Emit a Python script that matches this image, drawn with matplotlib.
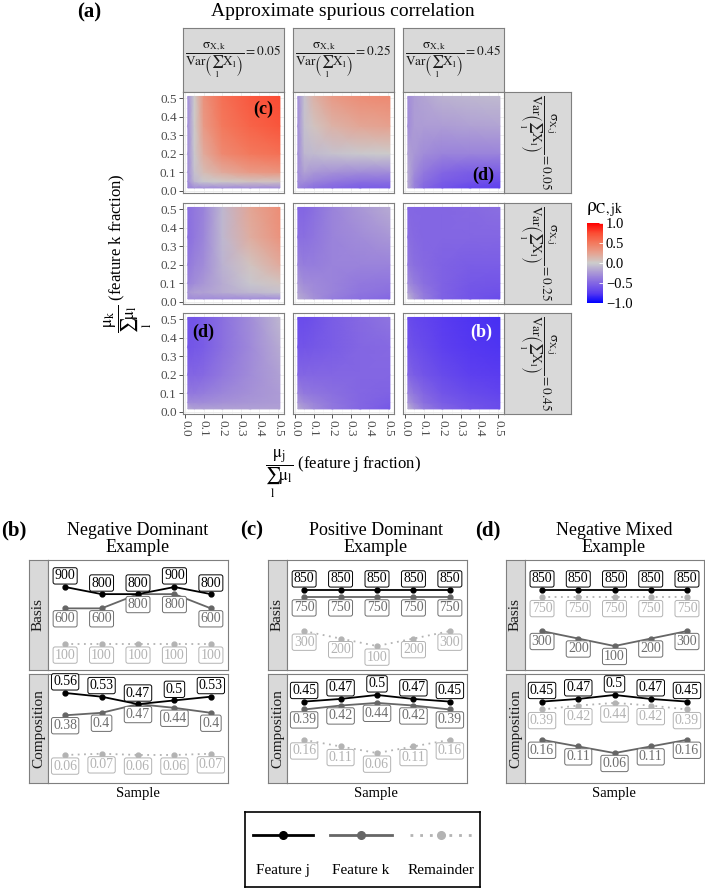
import numpy as np
import matplotlib
matplotlib.use('Agg')
import matplotlib.pyplot as plt
from matplotlib import font_manager
from matplotlib.colors import LinearSegmentedColormap, Normalize
from matplotlib.cm import ScalarMappable

try:
    font_manager.findfont(font_manager.FontProperties(family='Liberation Serif'),
                          fallback_to_default=False)
    plt.rcParams['font.family'] = ['Liberation Serif', 'STIXGeneral']
except ValueError:
    plt.rcParams['font.family'] = ['STIXGeneral']
plt.rcParams['mathtext.fontset'] = 'stix'

W, H = 705, 889

# ---------------- data: panel (a) ----------------
frac = [0.015, 0.05, 0.1, 0.2, 0.35, 0.51]        # mu_j (cols) and mu_k (rows) fractions
sigma_k = ['0.05', '0.25', '0.45']
sigma_j = ['0.05', '0.25', '0.45']
# rows listed top (mu_k = 0.51) to bottom (mu_k = 0.015)
rho_j05_k05 = [[-0.30, 0.00, 0.35, 0.55, 0.68, 0.75],
               [-0.30, 0.00, 0.30, 0.50, 0.62, 0.70],
               [-0.30, -0.02, 0.20, 0.40, 0.50, 0.55],
               [-0.30, -0.05, 0.10, 0.20, 0.30, 0.33],
               [-0.30, -0.10, -0.02, 0.02, 0.05, 0.05],
               [-0.35, -0.30, -0.30, -0.30, -0.30, -0.30]]
rho_j05_k25 = [[-0.30, -0.05, 0.15, 0.30, 0.38, 0.40],
               [-0.30, -0.05, 0.05, 0.15, 0.22, 0.25],
               [-0.30, -0.10, -0.08, -0.05, -0.02, 0.00],
               [-0.30, -0.20, -0.25, -0.28, -0.30, -0.30],
               [-0.30, -0.30, -0.35, -0.40, -0.45, -0.45],
               [-0.35, -0.40, -0.45, -0.50, -0.55, -0.55]]
rho_j05_k45 = [[-0.30, -0.22, -0.18, -0.12, -0.10, -0.08],
               [-0.30, -0.22, -0.22, -0.22, -0.20, -0.18],
               [-0.20, -0.25, -0.30, -0.35, -0.35, -0.35],
               [-0.15, -0.30, -0.40, -0.50, -0.55, -0.55],
               [-0.15, -0.35, -0.45, -0.55, -0.60, -0.65],
               [-0.15, -0.35, -0.50, -0.60, -0.68, -0.72]]
rho_j25_k05 = [[-0.45, -0.40, -0.35, -0.10, 0.22, 0.38],
               [-0.45, -0.40, -0.33, -0.10, 0.18, 0.34],
               [-0.40, -0.35, -0.30, -0.12, 0.05, 0.20],
               [-0.35, -0.30, -0.25, -0.15, -0.03, 0.05],
               [-0.25, -0.20, -0.20, -0.15, -0.10, -0.05],
               [-0.30, -0.30, -0.30, -0.30, -0.30, -0.30]]
rho_j25_k25 = [[-0.50, -0.50, -0.45, -0.35, -0.25, -0.15],
               [-0.45, -0.45, -0.42, -0.35, -0.30, -0.25],
               [-0.35, -0.38, -0.38, -0.35, -0.35, -0.35],
               [-0.25, -0.30, -0.32, -0.35, -0.40, -0.42],
               [-0.20, -0.25, -0.30, -0.35, -0.42, -0.45],
               [-0.15, -0.20, -0.28, -0.38, -0.45, -0.50]]
rho_j25_k45 = [[-0.50, -0.50, -0.50, -0.50, -0.48, -0.45],
               [-0.45, -0.48, -0.50, -0.50, -0.50, -0.50],
               [-0.40, -0.45, -0.48, -0.52, -0.55, -0.55],
               [-0.30, -0.38, -0.45, -0.52, -0.58, -0.60],
               [-0.20, -0.30, -0.40, -0.52, -0.60, -0.62],
               [-0.10, -0.25, -0.38, -0.52, -0.60, -0.65]]
rho_j45_k05 = [[-0.60, -0.60, -0.55, -0.45, -0.30, -0.10],
               [-0.60, -0.58, -0.55, -0.45, -0.32, -0.15],
               [-0.50, -0.50, -0.48, -0.40, -0.30, -0.20],
               [-0.40, -0.40, -0.38, -0.33, -0.28, -0.22],
               [-0.30, -0.30, -0.30, -0.28, -0.25, -0.22],
               [-0.15, -0.20, -0.20, -0.20, -0.20, -0.20]]
rho_j45_k25 = [[-0.65, -0.65, -0.62, -0.55, -0.48, -0.42],
               [-0.60, -0.60, -0.58, -0.55, -0.50, -0.48],
               [-0.50, -0.50, -0.50, -0.50, -0.50, -0.50],
               [-0.35, -0.40, -0.42, -0.45, -0.50, -0.52],
               [-0.25, -0.30, -0.35, -0.42, -0.50, -0.55],
               [-0.15, -0.22, -0.30, -0.40, -0.50, -0.58]]
rho_j45_k45 = [[-0.65, -0.68, -0.70, -0.75, -0.78, -0.80],
               [-0.60, -0.63, -0.66, -0.72, -0.76, -0.78],
               [-0.50, -0.55, -0.60, -0.66, -0.72, -0.75],
               [-0.35, -0.42, -0.50, -0.60, -0.66, -0.70],
               [-0.25, -0.35, -0.45, -0.55, -0.62, -0.66],
               [-0.12, -0.25, -0.38, -0.50, -0.60, -0.65]]
rho_grid = [[rho_j05_k05, rho_j05_k25, rho_j05_k45],
            [rho_j25_k05, rho_j25_k25, rho_j25_k45],
            [rho_j45_k05, rho_j45_k25, rho_j45_k45]]

# ---------------- data: panels (b)-(d) ----------------
samples = [1, 2, 3, 4, 5]
b_basis_j = [900, 800, 800, 900, 800]
b_basis_k = [600, 600, 800, 800, 600]
b_basis_r = [100, 100, 100, 100, 100]
b_comp_j = [0.56, 0.53, 0.47, 0.5, 0.53]
b_comp_k = [0.38, 0.4, 0.47, 0.44, 0.4]
b_comp_r = [0.06, 0.07, 0.06, 0.06, 0.07]

c_basis_j = [850, 850, 850, 850, 850]
c_basis_k = [750, 750, 750, 750, 750]
c_basis_r = [300, 200, 100, 200, 300]
c_comp_j = [0.45, 0.47, 0.5, 0.47, 0.45]
c_comp_k = [0.39, 0.42, 0.44, 0.42, 0.39]
c_comp_r = [0.16, 0.11, 0.06, 0.11, 0.16]

d_basis_j = [850, 850, 850, 850, 850]
d_basis_k = [300, 200, 100, 200, 300]
d_basis_r = [750, 750, 750, 750, 750]
d_comp_j = [0.45, 0.47, 0.5, 0.47, 0.45]
d_comp_k = [0.16, 0.11, 0.06, 0.11, 0.16]
d_comp_r = [0.39, 0.42, 0.44, 0.42, 0.39]

fig = plt.figure(figsize=(W / 100, H / 100), dpi=100)


def px_ax(x0, y0, x1, y1):
    return fig.add_axes([x0 / W, 1 - y1 / H, (x1 - x0) / W, (y1 - y0) / H])


def px_text(x, y, s, **kw):
    return fig.text(x / W, 1 - y / H, s, **kw)


def strip(x0, y0, x1, y1, s, rot=0, size=10):
    a = px_ax(x0, y0, x1, y1)
    a.set_facecolor('#D9D9D9')
    a.set_xticks([]); a.set_yticks([])
    for sp in a.spines.values():
        sp.set_color('#7F7F7F'); sp.set_linewidth(0.8)
    a.text(0.5, 0.5, s, rotation=rot, ha='center', va='center', fontsize=size,
           color='#1A1A1A', transform=a.transAxes)
    return a


cmap = LinearSegmentedColormap.from_list('rho', [
    (0.0, '#0000FF'), (0.125, '#5A3CF0'), (0.25, '#8366E3'), (0.375, '#A996D6'),
    (0.5, '#CCCCCC'), (0.625, '#E6A290'), (0.75, '#F37A5E'), (0.875, '#FB4D34'),
    (1.0, '#FF0000')])
norm = Normalize(-1, 1)

strip_fmt = (r'$\dfrac{\mathrm{\sigma}_{\mathrm{X,%s}}}'
             r'{\mathrm{Var}\left(\sum_{\mathrm{l}}\mathrm{X}_{\mathrm{l}}\right)} = %s$')

# ---------------- panel (a) ----------------
col_x = [(183, 284), (293, 394), (403, 504)]
row_y = [(92, 193), (203, 304), (313, 414)]
ticks = [0.0, 0.1, 0.2, 0.3, 0.4, 0.5]

px_text(89, 12, '(a)', fontsize=15, fontweight='bold', ha='center', va='center')
px_text(343, 11, 'Approximate spurious correlation', fontsize=14, ha='center', va='center')

for c in range(3):
    strip(col_x[c][0], 28, col_x[c][1], 92, strip_fmt % ('k', sigma_k[c]), size=9.5)
for r in range(3):
    strip(504, row_y[r][0], 571, row_y[r][1], strip_fmt % ('j', sigma_j[r]), rot=-90, size=9.5)

heat_axes = {}
for r in range(3):
    for c in range(3):
        ax = px_ax(col_x[c][0], row_y[r][0], col_x[c][1], row_y[r][1])
        z = np.flipud(np.array(rho_grid[r][c]))
        ax.pcolormesh(frac, frac, z, shading='gouraud', cmap=cmap, norm=norm, zorder=1)
        ax.set_xlim(-0.011, 0.532)
        ax.set_ylim(-0.0125, 0.534)
        ax.set_xticks(ticks); ax.set_yticks(ticks)
        ax.set_xticks([0.05, 0.15, 0.25, 0.35, 0.45], minor=True)
        ax.set_yticks([0.05, 0.15, 0.25, 0.35, 0.45], minor=True)
        ax.grid(which='major', color='#EBEBEB', lw=0.6)
        ax.grid(which='minor', color='#F3F3F3', lw=0.4)
        ax.set_axisbelow(True)
        for sp in ax.spines.values():
            sp.set_color('#7F7F7F'); sp.set_linewidth(0.8)
        ax.tick_params(which='major', length=3, width=0.6, color='#333333',
                       labelsize=9.5, labelcolor='#4D4D4D', pad=1.5)
        ax.tick_params(which='minor', length=0)
        ax.set_yticklabels(['%.1f' % t for t in ticks])
        ax.set_xticklabels(['%.1f' % t for t in ticks], rotation=-90)
        if c > 0:
            ax.tick_params(axis='y', left=False, labelleft=False)
        if r < 2:
            ax.tick_params(axis='x', bottom=False, labelbottom=False)
        heat_axes[(r, c)] = ax

heat_axes[(0, 0)].text(0.42, 0.44, '(c)', fontsize=13, fontweight='bold', ha='center', va='center')
heat_axes[(0, 2)].text(0.42, 0.085, '(d)', fontsize=13, fontweight='bold', ha='center', va='center')
heat_axes[(2, 0)].text(0.097, 0.43, '(d)', fontsize=13, fontweight='bold', ha='center', va='center')
heat_axes[(2, 2)].text(0.41, 0.43, '(b)', fontsize=13, fontweight='bold', ha='center', va='center',
                       color='white')

px_text(343, 474, r'$\dfrac{\mathrm{\mu}_{\mathrm{j}}}{\sum_{\mathrm{l}}\mathrm{\mu}_{\mathrm{l}}}$'
        ' (feature j fraction)', fontsize=12, ha='center', va='center')
px_text(128, 253, r'$\dfrac{\mathrm{\mu}_{\mathrm{k}}}{\sum_{\mathrm{l}}\mathrm{\mu}_{\mathrm{l}}}$'
        ' (feature k fraction)', fontsize=12, ha='center', va='center', rotation=90)

cax = px_ax(587, 223, 603, 303)
cb = fig.colorbar(ScalarMappable(norm=norm, cmap=cmap), cax=cax, ticks=[-1, -0.5, 0, 0.5, 1])
cb.outline.set_visible(False)
cb.ax.set_yticklabels(['\u22121.0', '\u22120.5', '0.0', '0.5', '1.0'])
cb.ax.tick_params(direction='in', color='white', length=3, width=0.6, labelsize=10.5, pad=2)
px_text(586, 210, r'$\mathrm{\rho}_{\mathrm{C,jk}}$', fontsize=14, ha='left', va='center')

# ---------------- panels (b)-(d) ----------------
style_j = dict(color='black', lw=1.3, ls='-', marker='o', ms=3.5, zorder=3)
style_k = dict(color='#666666', lw=1.3, ls='-', marker='o', ms=3.5, zorder=2)
style_r = dict(color='#B3B3B3', lw=1.3, ls=(0, (1, 2.5)), marker='o', ms=3.5, zorder=1)


def labels(ax, ys, fmt, color, dy, z):
    for x, y in zip(samples, ys):
        ax.annotate(fmt(y), (x, y), xytext=(0, dy), textcoords='offset points',
                    ha='center', va='center', fontsize=10, color=color, zorder=z,
                    bbox=dict(boxstyle='round,pad=0.12,rounding_size=0.15', fc='white',
                              ec=color, lw=0.7))


def line_panel(x0, x1, title_x, letter, letter_x, title, rows):
    px_text(letter_x, 530, letter, fontsize=15, fontweight='bold', ha='center', va='center')
    px_text(title_x, 539, title, fontsize=13, ha='center', va='center', linespacing=1.05)
    px_text(title_x, 793, 'Sample', fontsize=10.5, ha='center', va='center')
    for (y0, y1), (name, sj, sk, sr, fmt, ylim) in zip([(560, 670), (674, 783)], rows):
        strip(x0, y0, x0 + 19, y1, name, rot=90, size=11)
        ax = px_ax(x0 + 19, y0, x1, y1)
        ax.plot(samples, sr, **style_r)
        ax.plot(samples, sk, **style_k)
        ax.plot(samples, sj, **style_j)
        labels(ax, sr, fmt, '#B3B3B3', -8, 4)
        labels(ax, sk, fmt, '#6E6E6E', -7.5, 5)
        labels(ax, sj, fmt, 'black', 8, 6)
        ax.set_xlim(0.53, 5.47)
        ax.set_ylim(*ylim)
        ax.set_xticks([]); ax.set_yticks([])
        for sp in ax.spines.values():
            sp.set_color('#7F7F7F'); sp.set_linewidth(0.8)


fmt_int = lambda v: '%d' % v
fmt_dec = lambda v: '%g' % v

line_panel(29, 228, 138, '(b)', 14, 'Negative Dominant\nExample',
           [('Basis', b_basis_j, b_basis_k, b_basis_r, fmt_int, (-265, 1279)),
            ('Composition', b_comp_j, b_comp_k, b_comp_r, fmt_dec, (-0.166, 0.713))])
line_panel(268, 467, 376, '(c)', 252, 'Positive Dominant\nExample',
           [('Basis', c_basis_j, c_basis_k, c_basis_r, fmt_int, (-221, 1252)),
            ('Composition', c_comp_j, c_comp_k, c_comp_r, fmt_dec, (-0.167, 0.659))])
line_panel(506, 704, 614, '(d)', 488, 'Negative Mixed\nExample',
           [('Basis', d_basis_j, d_basis_k, d_basis_r, fmt_int, (-221, 1252)),
            ('Composition', d_comp_j, d_comp_k, d_comp_r, fmt_dec, (-0.167, 0.659))])

# ---------------- legend ----------------
lg = px_ax(245, 812, 480, 887)
lg.set_xlim(245, 480); lg.set_ylim(887, 812)
lg.set_xticks([]); lg.set_yticks([])
for sp in lg.spines.values():
    sp.set_color('black'); sp.set_linewidth(1.2)
for (xa, xb), st, name in zip([(253, 313), (330, 392), (410, 472)],
                              [style_j, style_k, style_r],
                              ['Feature j', 'Feature k', 'Remainder']):
    s = dict(st); s['lw'] = 2.0
    lg.plot([xa, xb], [835, 835], **{k: v for k, v in s.items() if k not in ('marker', 'ms')})
    lg.plot([(xa + xb) / 2], [835], marker='o', ms=5.5, color=s['color'], ls='none')
    lg.text((xa + xb) / 2, 871, name, fontsize=11, ha='center', va='center')

fig.savefig('out.png', dpi=100)
